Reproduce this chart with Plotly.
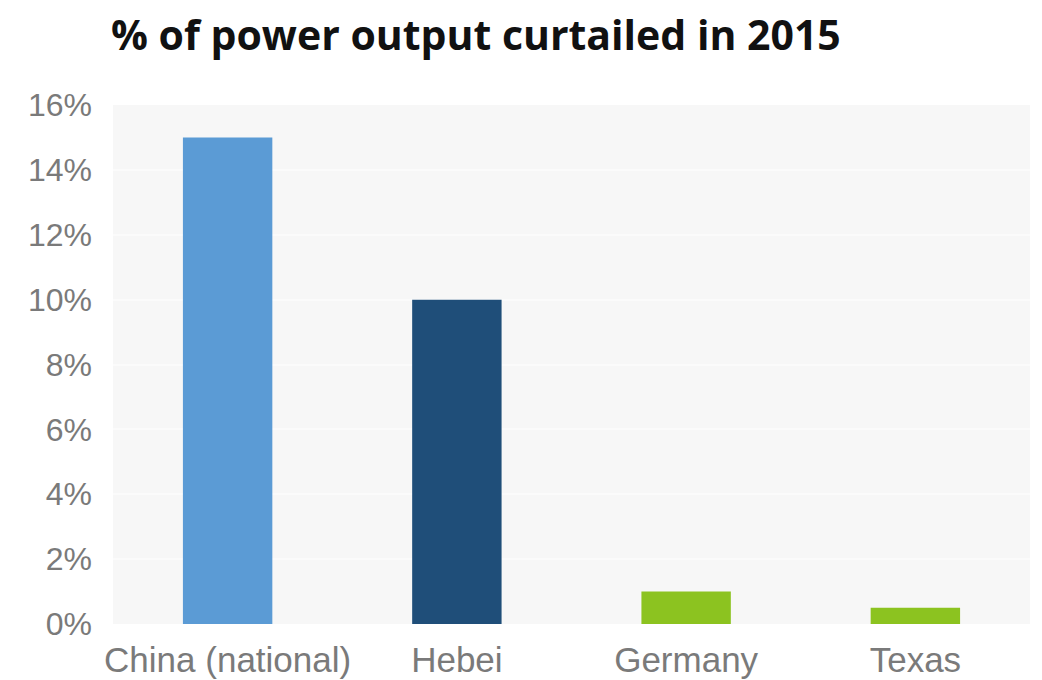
import plotly.graph_objects as go

categories = ["China (national)", "Hebei", "Germany", "Texas"]
values = [15.0, 10.0, 1.0, 0.5]
colors = ["#5b9bd5", "#1f4e79", "#8cc320", "#8cc320"]
tick_vals = [0, 2, 4, 6, 8, 10, 12, 14, 16]
tick_text = ["0%", "2%", "4%", "6%", "8%", "10%", "12%", "14%", "16%"]
title_text = "% of power output curtailed in 2015"

fig = go.Figure(go.Bar(x=categories, y=values, marker=dict(color=colors, line=dict(width=0)),
                       width=0.39))

fig.update_layout(
    width=1042, height=680,
    margin=dict(l=113, r=12, t=105, b=56, autoexpand=False),
    paper_bgcolor="white",
    plot_bgcolor="#f7f7f7",
    showlegend=False,
    title=dict(text="<b>" + title_text + "</b>", x=111/1042, xanchor="left", xref="container",
               y=1 - 36/680, yanchor="middle", yref="container",
               font=dict(family="Open Sans", size=41, color="#111111")),
    xaxis=dict(tickfont=dict(family="Liberation Sans", size=35, color="#7a7a7a"),
               showgrid=False, showline=False, ticks="", automargin=False),
    yaxis=dict(range=[0, 16], tickvals=tick_vals, ticktext=tick_text,
               tickfont=dict(family="Liberation Sans", size=32, color="#7a7a7a"),
               showgrid=True, gridcolor="#fbfbfb", gridwidth=2, zeroline=False,
               ticks="", ticklen=0, automargin=False),
)
fig.update_yaxes(ticklabelstandoff=20)
fig.update_xaxes(ticklabelstandoff=12)

fig.write_html("out.html")
